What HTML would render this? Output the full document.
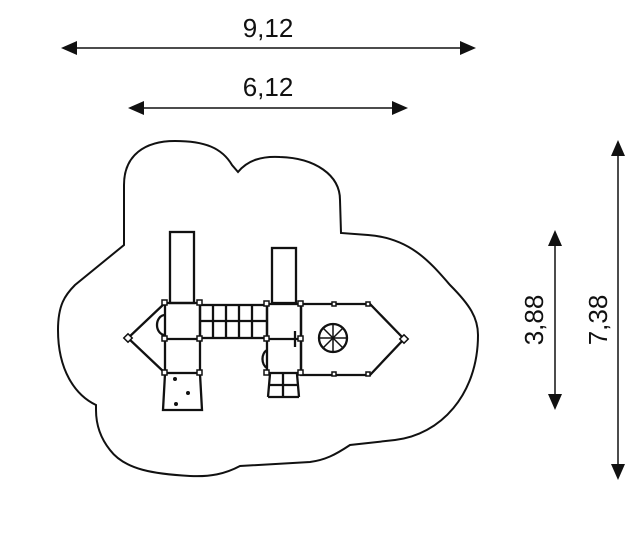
<!DOCTYPE html>
<html><head><style>html,body{margin:0;padding:0;background:#fff}svg{display:block}text{font-family:"Liberation Sans",Arial,sans-serif;font-size:26px;fill:#111}</style></head>
<body>
<svg width="630" height="552" viewBox="0 0 630 552" xmlns="http://www.w3.org/2000/svg">
<g stroke="#111" stroke-width="2" fill="none">
<!-- outline -->
<path d="M124,245 L124,185 C124,155 145,141 175,141 C205,141 222,148 232,165 L238,172 C248,160 262,156 280,157 C315,158 340,175 340,200 L341,233 L368,235 C410,238 430,262 450,285 C470,305 478,318 478,335 C478,395 440,435 395,440 L350,445 C335,455 325,460 310,462 L240,466 C225,474 210,477 190,476 C155,474 125,470 110,450 C98,435 96,420 96,410 L96,405 C75,395 58,370 58,330 C58,305 65,295 75,285 L124,245 Z"/>
</g>
<g stroke="#111" stroke-width="2.3" fill="none">
<!-- slides -->
<rect x="170" y="232" width="24" height="71"/>
<rect x="272" y="248" width="24" height="55"/>
<!-- left tower -->
<rect x="165" y="303" width="35" height="70"/>
<line x1="165" y1="339" x2="200" y2="339"/>
<path d="M165,303 L128,338 L165,373"/>
<path d="M165,315 A8,10 0 0 0 165,335"/>
<!-- bridge -->
<rect x="200" y="305" width="67" height="33"/>
<line x1="213" y1="305" x2="213" y2="338"/><line x1="226" y1="305" x2="226" y2="338"/>
<line x1="239" y1="305" x2="239" y2="338"/><line x1="252" y1="305" x2="252" y2="338"/>
<line x1="200" y1="321" x2="267" y2="321"/>
<!-- right tower -->
<rect x="267" y="304" width="34" height="69"/>
<line x1="267" y1="339" x2="301" y2="339"/>
<path d="M267,350 A8,10 0 0 0 267,368"/>
<line x1="295" y1="331" x2="295" y2="347"/>
<!-- deck -->
<path d="M301,304 L370,304 L404,339 L370,375 L301,375 Z"/>
<circle cx="333" cy="338" r="14"/>
<line x1="323" y1="328" x2="343" y2="348" stroke-width="1.5"/><line x1="343" y1="328" x2="323" y2="348" stroke-width="1.5"/>
<line x1="333" y1="324" x2="333" y2="352" stroke-width="1.5"/><line x1="319" y1="338" x2="347" y2="338" stroke-width="1.5"/>
<!-- steps -->
<path d="M165,374 L163,410 L202,410 L200,374"/>
<path d="M270,374 L268,397 M297,374 L299,397 M269,385 L298,385 M268,397 L299,397 M283,374 L283,397"/>
</g>
<g fill="#fff" stroke="#111" stroke-width="1.5">
<rect x="125" y="335" width="6" height="6" transform="rotate(45 128 338)"/>
<rect x="401" y="336" width="6" height="6" transform="rotate(45 404 339)"/>
<rect x="162" y="300" width="5" height="5"/><rect x="197" y="300" width="5" height="5"/>
<rect x="162" y="336" width="5" height="5"/><rect x="197" y="336" width="5" height="5"/>
<rect x="162" y="370" width="5" height="5"/><rect x="197" y="370" width="5" height="5"/>
<rect x="264" y="301" width="5" height="5"/><rect x="298" y="301" width="5" height="5"/>
<rect x="264" y="336" width="5" height="5"/><rect x="298" y="336" width="5" height="5"/>
<rect x="264" y="370" width="5" height="5"/><rect x="298" y="370" width="5" height="5"/>
<rect x="332" y="302" width="4" height="4"/><rect x="366" y="302" width="4" height="4"/>
<rect x="332" y="372" width="4" height="4"/><rect x="366" y="372" width="4" height="4"/>
</g>
<g fill="#111">
<circle cx="175" cy="379" r="2"/><circle cx="188" cy="393" r="2"/><circle cx="176" cy="404" r="2"/>
</g>
<!-- dimensions -->
<g stroke="#111" stroke-width="1.5">
<line x1="70" y1="48" x2="467" y2="48"/>
<line x1="136" y1="108" x2="400" y2="108"/>
<line x1="555" y1="238" x2="555" y2="402"/>
<line x1="618" y1="148" x2="618" y2="472"/>
</g>
<g fill="#111">
<polygon points="61,48 77,41 77,55"/><polygon points="476,48 460,41 460,55"/>
<polygon points="128,108 144,101 144,115"/><polygon points="408,108 392,101 392,115"/>
<polygon points="555,230 548,246 562,246"/><polygon points="555,410 548,394 562,394"/>
<polygon points="618,140 611,156 625,156"/><polygon points="618,480 611,464 625,464"/>
</g>
<text x="268" y="37" text-anchor="middle">9,12</text>
<text x="268" y="96" text-anchor="middle">6,12</text>
<text transform="translate(543,320) rotate(-90)" text-anchor="middle">3,88</text>
<text transform="translate(607,320) rotate(-90)" text-anchor="middle">7,38</text>
</svg>
</body></html>
